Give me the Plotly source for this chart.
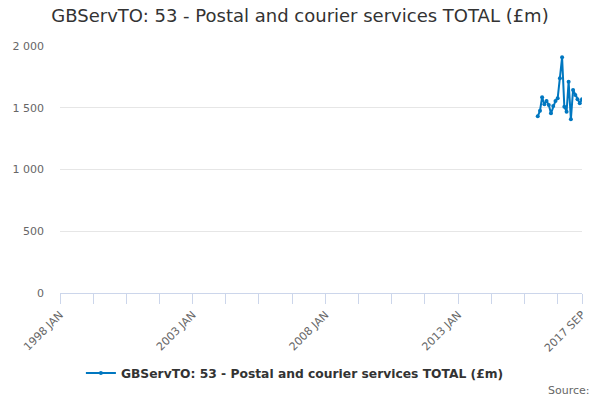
import plotly.graph_objects as go
import pandas as pd

title = "GBServTO: 53 - Postal and courier services TOTAL (£m)"
series_name = "GBServTO: 53 - Postal and courier services TOTAL (£m)"

months = [
    "2016-01", "2016-02", "2016-03", "2016-04", "2016-05", "2016-06", "2016-07",
    "2016-08", "2016-09", "2016-10", "2016-11", "2016-12", "2017-01", "2017-02",
    "2017-03", "2017-04", "2017-05", "2017-06", "2017-07", "2017-08", "2017-09",
]
values = [
    1431, 1476, 1585, 1528, 1555, 1522, 1455,
    1514, 1555, 1576, 1738, 1908, 1508, 1468,
    1711, 1406, 1644, 1603, 1568, 1536, 1568,
]

x_start = "1998-01-01"
x_end = "2017-09-01"
y_ticks = [0, 500, 1000, 1500, 2000]

# x tick marks every 15 months, labels every 5 years plus the end
tick_dates = list(pd.date_range(x_start, x_end, freq="15MS"))
tick_text = [d.strftime("%Y %b").upper() if i % 4 == 0 else "" for i, d in enumerate(tick_dates)]
tick_dates.append(pd.Timestamp(x_end))
tick_text.append("2017 SEP")

x_dates = [m + "-01" for m in months]

fig = go.Figure()
fig.add_trace(go.Scatter(
    x=x_dates, y=values, name=series_name,
    mode="lines+markers",
    line=dict(color="#0077c0", width=2),
    marker=dict(color="#0077c0", size=4),
    showlegend=True,
))

fig.update_layout(
    width=600, height=400,
    paper_bgcolor="white", plot_bgcolor="white",
    margin=dict(l=58, r=17, t=46, b=107),
    separators=". ",
    font=dict(family="DejaVu Sans", color="#666666", size=11),
    title=dict(text=title, x=0.5, xanchor="center", y=0.96, yanchor="middle",
               font=dict(family="DejaVu Sans", size=18, color="#333333")),
    xaxis=dict(
        type="date", range=[x_start, x_end],
        tickmode="array", tickvals=tick_dates, ticktext=tick_text,
        tickangle=-45, ticks="outside", ticklen=10, tickcolor="#ccd6eb",
        showline=True, linecolor="#ccd6eb", linewidth=1,
        showgrid=False, zeroline=False,
        tickfont=dict(size=11, color="#666666"),
    ),
    yaxis=dict(
        range=[0, 2000], tickmode="array", tickvals=y_ticks,
        tickformat=",d",
        showgrid=True, gridcolor="#e6e6e6", zeroline=False,
        showline=False, ticks="", ticklabelstandoff=15,
        tickfont=dict(size=11, color="#666666"),
    ),
    legend=dict(
        orientation="h", x=0.45, xanchor="center", y=-0.324, yanchor="middle",
        font=dict(family="DejaVu Sans", size=12.3, color="#333333", weight="bold"),
        bgcolor="rgba(0,0,0,0)", itemwidth=30,
    ),
    annotations=[dict(
        text="Source:", xref="paper", yref="paper", x=1.02, y=-0.395,
        xanchor="right", yanchor="middle", showarrow=False,
        font=dict(family="DejaVu Sans", size=11, color="#666666"),
    )],
)

fig.write_html("out.html", config={"displayModeBar": False},
               post_script="document.body.style.margin='0px';")
